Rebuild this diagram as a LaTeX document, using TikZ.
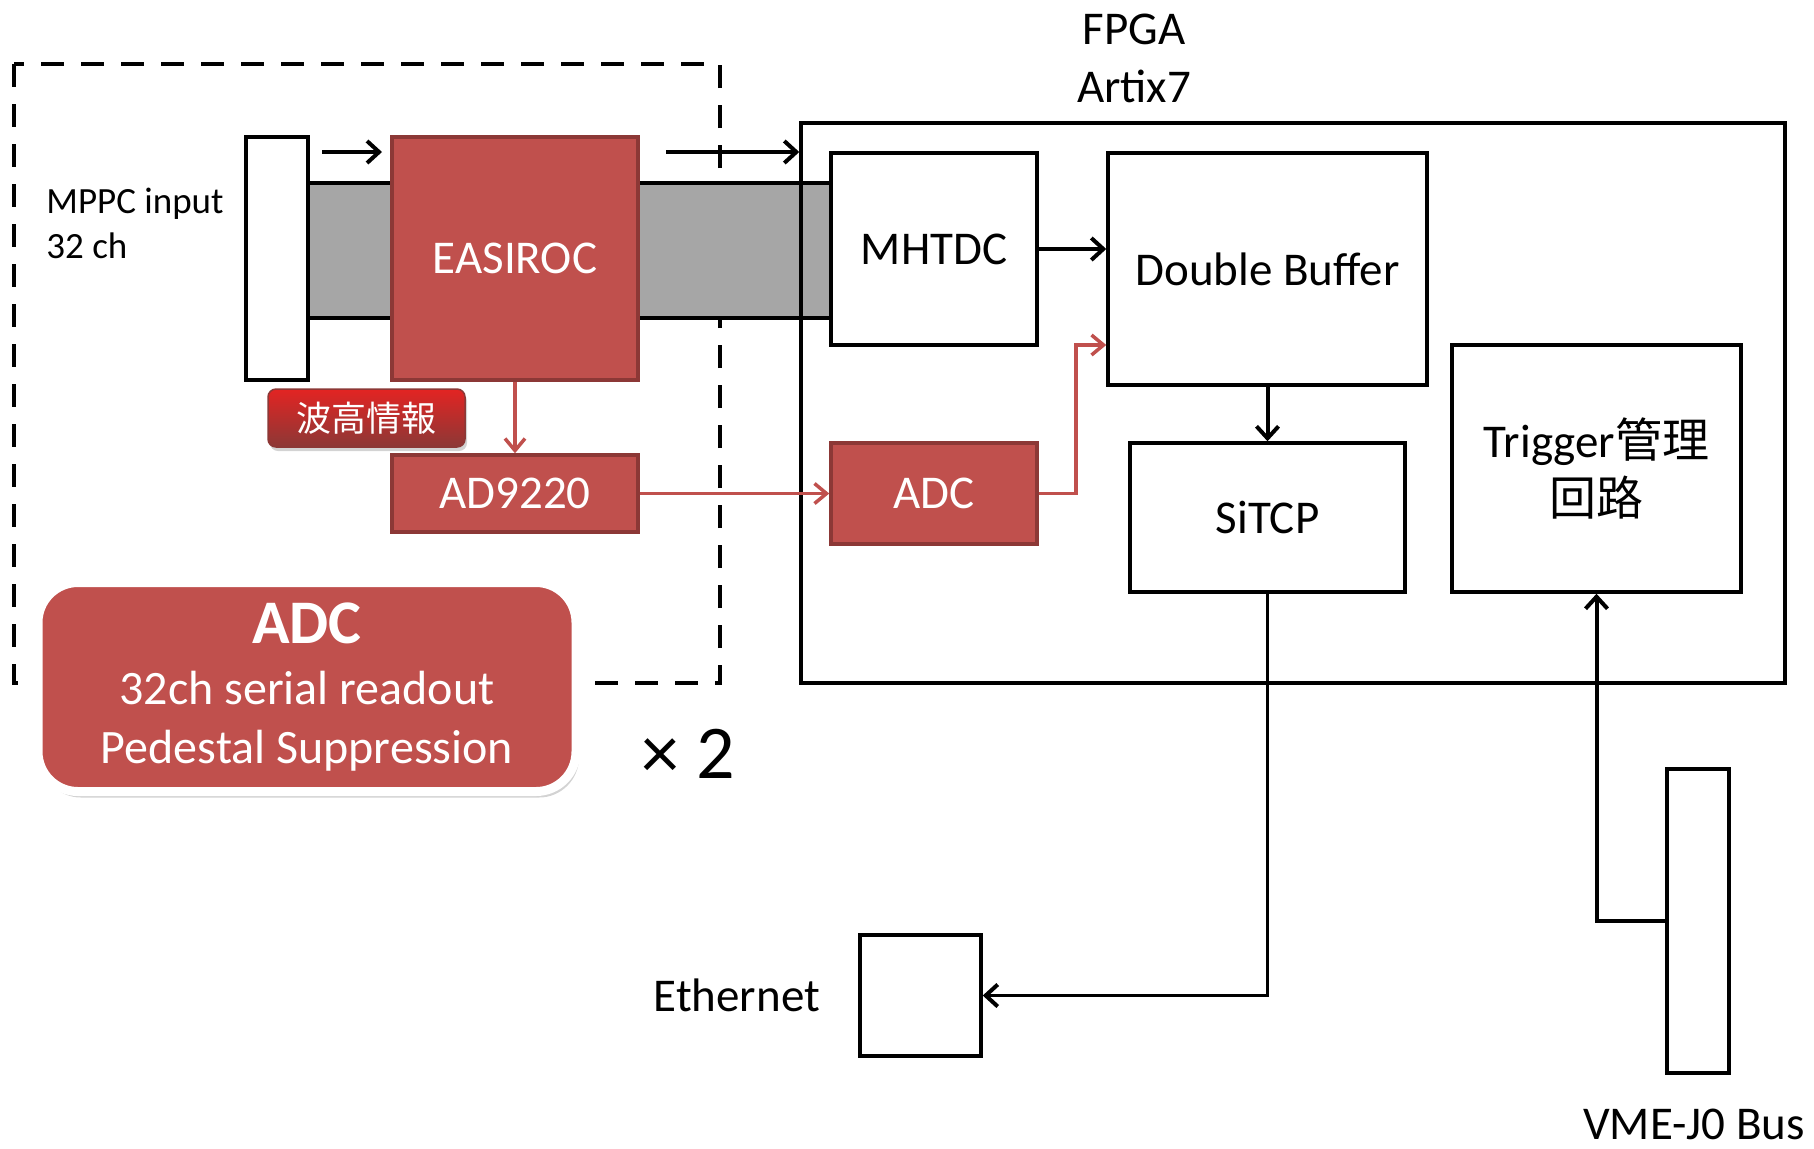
\documentclass[tikz,border=0pt]{standalone}
\usepackage{fontspec}
\setmainfont{Carlito}
\newfontfamily\cjk{Noto Sans CJK JP}
\usetikzlibrary{arrows.meta,positioning,shadows}
\definecolor{boxred}{HTML}{C0504D}
\definecolor{boxredline}{HTML}{8C3836}
\definecolor{bandgray}{HTML}{A6A6A6}

\begin{document}
\begin{tikzpicture}[x=0.5pt, y=-0.5pt,
    every node/.style={font=\fontsize{23.5}{29}\selectfont, inner sep=0pt},
    blk/.style={draw, line width=1.75pt, fill=white, align=center},
    redblk/.style={draw=boxredline, line width=1.75pt, fill=boxred, text=white, align=center},
    barb/.style={line width=2pt, -{Straight Barb[length=6pt,width=11pt,line width=2pt]}},
    redbarb/.style={draw=boxred, line width=1.75pt, -{Straight Barb[length=6pt,width=10pt,line width=1.75pt]}}]
    \useasboundingbox (0,0) rectangle (1814,1148);
    \draw[line width=1.75pt, dash pattern=on 11.5pt off 8.5pt] (14,64) rectangle (720,683);
    \fill[bandgray] (308,183) rectangle (831,318);
    \draw[line width=1.75pt] (308,183) -- (831,183) (308,318) -- (831,318);
    \node[draw, line width=1.75pt, minimum width=492pt, minimum height=280pt] (fpga) at (1293,403) {};
    \node[align=center, above=9pt of fpga.north, xshift=-79.5pt] (fpgalabel) {FPGA\\Artix7};
    \node[blk, minimum width=31pt, minimum height=121.5pt] (mppc) at (277,258.5) {};
    \node[align=left, anchor=west, font=\fontsize{18.5}{22.5}\selectfont] (mppclabel) at (46,223) {MPPC input\\32 ch};
    \node[redblk, minimum width=123pt, minimum height=121.5pt] (easiroc) at (515,258.5) {EASIROC};
    \node[redblk, minimum width=123pt, minimum height=38.5pt] (ad9220) at (515,493.5) {AD9220};
    \node[draw=boxredline, line width=0.75pt, rounded corners=4pt, top color=red!55!boxred, bottom color=boxredline,
      text=white, minimum width=98.5pt, minimum height=29pt, font=\cjk\fontsize{17.5}{20}\selectfont,
      drop shadow={opacity=0.35, shadow xshift=1pt, shadow yshift=-2pt}] (pulse) at (366.5,418) {波高情報};
    \node[blk, minimum width=103pt, minimum height=96pt] (mhtdc) at (934,249) {MHTDC};
    \node[redblk, minimum width=103pt, minimum height=50.5pt] (adc) at (934,493.5) {ADC};
    \node[blk, minimum width=159.5pt, minimum height=116pt] (buffer) at (1267.5,269) {Double Buffer};
    \node[blk, minimum width=137.5pt, minimum height=74.5pt] (sitcp) at (1267.5,517.5) {SiTCP};
    \node[blk, minimum width=144.5pt, minimum height=123.5pt] (trigger) at (1596.5,468.5) {Trigger{\cjk 管理}\\{\cjk 回路}};
    \node[blk, minimum width=60.5pt, minimum height=60.5pt] (eth) at (920.5,995.5) {};
    \node[left=19pt of eth] (ethlabel) {Ethernet};
    \node[blk, minimum width=31pt, minimum height=152pt] (vme) at (1698,921) {};
    \node (vmelabel) at (1694,1124) {VME-J0 Bus};
    \node[draw=white, line width=4.5pt, fill=boxred, rounded corners=20pt, text=white, align=center,
      minimum width=269pt, minimum height=104.5pt, font=\fontsize{24}{29.5}\selectfont,
      drop shadow={opacity=0.35, shadow xshift=1.5pt, shadow yshift=-3pt}] (adcnote) at (307,687)
      {{\fontsize{31}{33}\selectfont\bfseries ADC}\\[1pt]32ch serial readout\\Pedestal Suppression};
    \node[font=\fontsize{38}{40}\selectfont] (times) at (688,754) {× 2};
    \coordinate (in1) at (322,152);
    \coordinate (in2) at (382,152);
    \coordinate (out1) at (666,152);
    \draw[barb] (in1) -- (in2);
    \draw[barb] (out1) -- (fpga.west |- out1);
    \draw[barb] (mhtdc.east) -- (buffer.west |- mhtdc.east);
    \draw[barb] (buffer.south) -- (sitcp.north);
    \draw[redbarb] (easiroc.south) -- (ad9220.north);
    \draw[redbarb] (ad9220.east) -- (adc.west);
    \draw[redbarb] (adc.east) -- ++(37,0) |- ([yshift=-38pt]buffer.west);
    \draw[barb, line width=1.75pt] (sitcp.south) |- (eth.east);
    \draw[barb] (vme.west) -| (trigger.south);
\end{tikzpicture}
\end{document}
